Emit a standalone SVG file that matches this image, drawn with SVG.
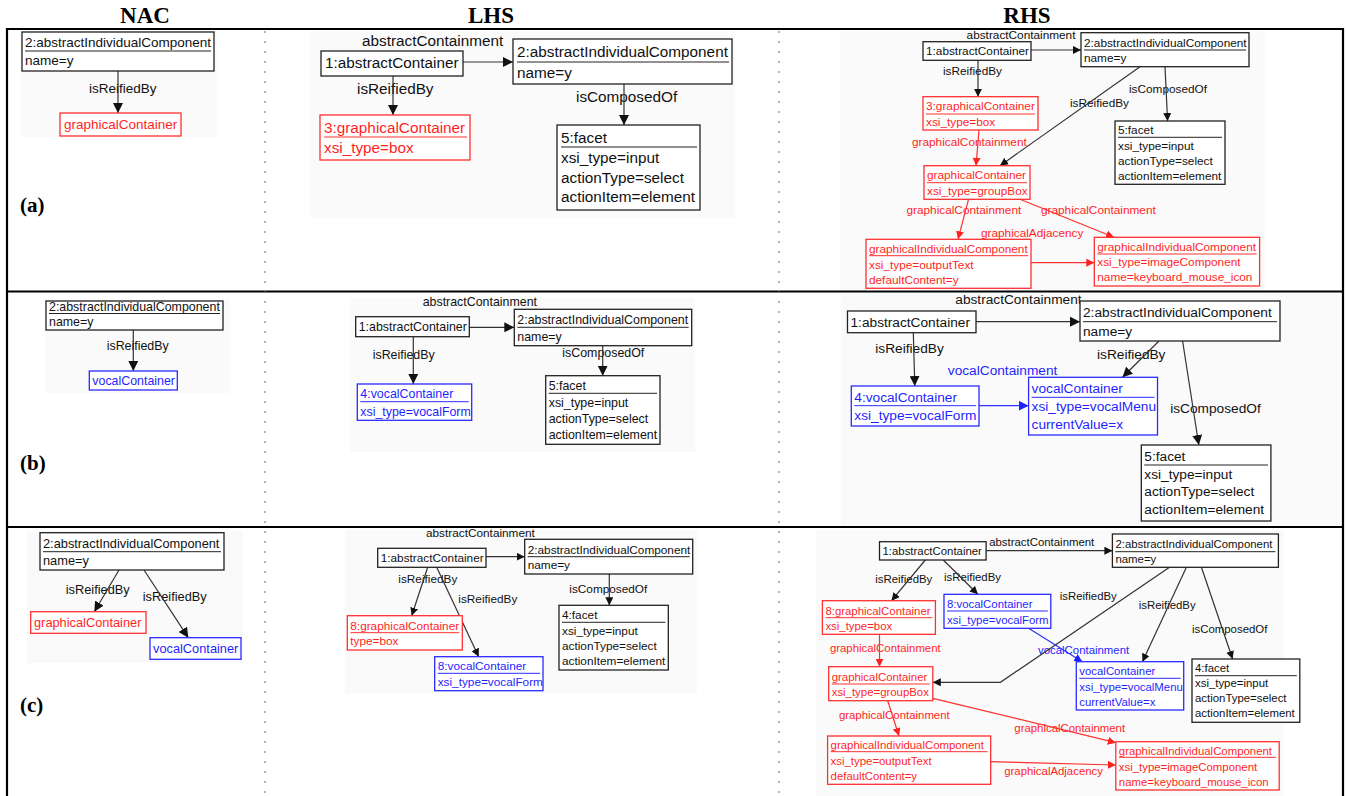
<svg xmlns="http://www.w3.org/2000/svg" width="1346" height="796" viewBox="0 0 1346 796">
<style>
text{font-family:"Liberation Sans",Arial,sans-serif;fill:#111}
.hd{font-family:"Liberation Serif","Times New Roman",serif;font-weight:bold;font-size:23px;text-anchor:middle;fill:#000}
.lb{font-family:"Liberation Serif","Times New Roman",serif;font-weight:bold;font-size:21px;fill:#000}
.bg{fill:#fafafa}
.nk{fill:#fff;stroke:#222;stroke-width:1.3}
.nr{fill:#fff;stroke:#ff3030;stroke-width:1.3}
.nb{fill:#fff;stroke:#2a2aff;stroke-width:1.3}
.uk{stroke:#222;stroke-width:1}
.ur{stroke:#ff3030;stroke-width:1}
.ub{stroke:#2a2aff;stroke-width:1}
text.r{fill:#ff1f1f}
text.b{fill:#1f1fff}
.ek{stroke:#333;stroke-width:1.2;fill:none}
.er{stroke:#ff3030;stroke-width:1.2;fill:none}
.eb{stroke:#3030ff;stroke-width:1.2;fill:none}
.grid{stroke:#000;stroke-width:2.2;fill:none}
.dot{stroke:#666;stroke-width:1;stroke-dasharray:2 8}
</style>
<defs>
<marker id="k8" viewBox="0 0 10 10" refX="10" refY="5" markerWidth="8" markerHeight="8" markerUnits="userSpaceOnUse" orient="auto"><path d="M0,0 L10,5 L0,10 z" fill="#111"/></marker>
<marker id="k10" viewBox="0 0 10 10" refX="10" refY="5" markerWidth="10" markerHeight="10" markerUnits="userSpaceOnUse" orient="auto"><path d="M0,0 L10,5 L0,10 z" fill="#111"/></marker>
<marker id="r8" viewBox="0 0 10 10" refX="10" refY="5" markerWidth="8" markerHeight="8" markerUnits="userSpaceOnUse" orient="auto"><path d="M0,0 L10,5 L0,10 z" fill="#ff2020"/></marker>
<marker id="b8" viewBox="0 0 10 10" refX="10" refY="5" markerWidth="8" markerHeight="8" markerUnits="userSpaceOnUse" orient="auto"><path d="M0,0 L10,5 L0,10 z" fill="#2020ff"/></marker>
<marker id="b10" viewBox="0 0 10 10" refX="10" refY="5" markerWidth="10" markerHeight="10" markerUnits="userSpaceOnUse" orient="auto"><path d="M0,0 L10,5 L0,10 z" fill="#2020ff"/></marker>
</defs>

<g id="headers">
<text class="hd" x="145" y="22.5">NAC</text>
<text class="hd" x="491" y="22.5">LHS</text>
<text class="hd" x="1027" y="22.5">RHS</text>
<text class="lb" x="20" y="212">(a)</text>
<text class="lb" x="20" y="470">(b)</text>
<text class="lb" x="20" y="712">(c)</text>
</g>

<g id="table">
<line class="grid" x1="7" y1="29" x2="1343" y2="29"/>
<line class="grid" x1="7" y1="291.5" x2="1343" y2="291.5"/>
<line class="grid" x1="7" y1="527" x2="1343" y2="527"/>
<line class="grid" x1="7" y1="28" x2="7" y2="796"/>
<line class="grid" x1="1343" y1="28" x2="1343" y2="796"/>
<line class="dot" x1="265" y1="31" x2="265" y2="796"/>
<line class="dot" x1="779" y1="31" x2="779" y2="796"/>
</g>

<g id="backgrounds">
<rect class="bg" x="20" y="31" width="197" height="106"/>
<rect class="bg" x="310" y="31" width="425" height="187"/>
<rect class="bg" x="840" y="31" width="425" height="259"/>
<rect class="bg" x="45" y="300" width="185" height="93"/>
<rect class="bg" x="350" y="298" width="345" height="154"/>
<rect class="bg" x="841" y="294" width="499" height="231"/>
<rect class="bg" x="27" y="531" width="216" height="132"/>
<rect class="bg" x="345" y="530" width="352" height="163"/>
<rect class="bg" x="816" y="530" width="468" height="266"/>
</g>

<g id="connectors">
<g id="c-a-nac" font-size="13.5">
<text x="89" y="93">isReifiedBy</text>
<line class="ek" x1="118" y1="71" x2="118" y2="113" marker-end="url(#k10)"/>
</g>
<g id="c-a-lhs" font-size="15.3">
<text x="362" y="46">abstractContainment</text>
<text x="357" y="94">isReifiedBy</text>
<text x="576" y="102">isComposedOf</text>
<line class="ek" x1="463" y1="62" x2="513" y2="62" marker-end="url(#k10)"/>
<line class="ek" x1="393" y1="76" x2="393" y2="115" marker-end="url(#k10)"/>
<line class="ek" x1="624" y1="84" x2="624" y2="125" marker-end="url(#k10)"/>
</g>
<g id="c-a-rhs" font-size="11.8">
<text x="966.6" y="39.3">abstractContainment</text>
<text x="943" y="75">isReifiedBy</text>
<text class="r" x="912" y="145.7">graphicalContainment</text>
<text x="1070" y="107.3">isReifiedBy</text>
<text x="1129" y="93.3">isComposedOf</text>
<text class="r" x="906.5" y="214">graphicalContainment</text>
<text class="r" x="1041" y="214">graphicalContainment</text>
<text class="r" x="981" y="237">graphicalAdjacency</text>
<line class="ek" x1="1031" y1="50" x2="1081" y2="50" marker-end="url(#k8)"/>
<line class="ek" x1="978" y1="60.3" x2="978" y2="96.7" marker-end="url(#k8)"/>
<line class="er" x1="979" y1="130" x2="976" y2="165.7" marker-end="url(#r8)"/>
<line class="ek" x1="1140" y1="66.7" x2="1000" y2="165.7" marker-end="url(#k8)"/>
<line class="ek" x1="1165" y1="66.7" x2="1167.6" y2="121" marker-end="url(#k8)"/>
<line class="er" x1="968.5" y1="199.3" x2="958" y2="239.3" marker-end="url(#r8)"/>
<line class="er" x1="1020" y1="199.3" x2="1114" y2="237.3" marker-end="url(#r8)"/>
<line class="er" x1="1031" y1="262.7" x2="1094.3" y2="262.7" marker-end="url(#r8)"/>
</g>
<g id="c-b-nac" font-size="12.4">
<text x="106.7" y="350">isReifiedBy</text>
<line class="ek" x1="133.3" y1="330" x2="133.3" y2="371" marker-end="url(#k10)"/>
</g>
<g id="c-b-lhs" font-size="12.4">
<text x="422.7" y="305.7">abstractContainment</text>
<text x="372.7" y="359">isReifiedBy</text>
<text x="562.3" y="357.3">isComposedOf</text>
<line class="ek" x1="469.3" y1="327.3" x2="514.3" y2="327.3" marker-end="url(#k10)"/>
<line class="ek" x1="413.3" y1="336.7" x2="413.3" y2="384" marker-end="url(#k10)"/>
<line class="ek" x1="602.7" y1="345.7" x2="602.7" y2="375.7" marker-end="url(#k10)"/>
</g>
<g id="c-b-rhs" font-size="13.7">
<text x="955.3" y="304">abstractContainment</text>
<text x="875.3" y="353.3">isReifiedBy</text>
<text class="b" x="947.8" y="375">vocalContainment</text>
<text x="1097" y="359">isReifiedBy</text>
<text x="1170.2" y="413.3">isComposedOf</text>
<line class="ek" x1="976" y1="321.7" x2="1080" y2="321.7" marker-end="url(#k10)"/>
<line class="ek" x1="913.3" y1="332.7" x2="914.8" y2="386" marker-end="url(#k10)"/>
<line class="eb" x1="979" y1="405.7" x2="1028.6" y2="405.7" marker-end="url(#b10)"/>
<line class="ek" x1="1159" y1="341" x2="1122.5" y2="377.3" marker-end="url(#k10)"/>
<line class="ek" x1="1182.6" y1="341" x2="1198.8" y2="445" marker-end="url(#k10)"/>
</g>
<g id="c-c-nac" font-size="12.8">
<text x="65.7" y="594">isReifiedBy</text>
<text x="142.7" y="600.7">isReifiedBy</text>
<line class="ek" x1="119" y1="570" x2="94.3" y2="611.7" marker-end="url(#k10)"/>
<line class="ek" x1="144" y1="570" x2="188.3" y2="637.7" marker-end="url(#k10)"/>
</g>
<g id="c-c-lhs" font-size="11.8">
<text x="426" y="537.3">abstractContainment</text>
<text x="398.3" y="583.3">isReifiedBy</text>
<text x="458.3" y="602.7">isReifiedBy</text>
<text x="569.3" y="593.3">isComposedOf</text>
<line class="ek" x1="486" y1="556.7" x2="524.7" y2="556.7" marker-end="url(#k8)"/>
<line class="ek" x1="427.7" y1="567.3" x2="411.7" y2="615.7" marker-end="url(#k8)"/>
<line class="ek" x1="436.7" y1="567.3" x2="478.7" y2="656.7" marker-end="url(#k8)"/>
<line class="ek" x1="609.3" y1="574" x2="609.3" y2="605.3" marker-end="url(#k8)"/>
</g>
<g id="c-c-rhs" font-size="11.4">
<text x="989.2" y="545.7">abstractContainment</text>
<text x="875.3" y="583.3">isReifiedBy</text>
<text x="944" y="580.7">isReifiedBy</text>
<text class="r" x="829.9" y="652.3">graphicalContainment</text>
<text x="1059.8" y="600">isReifiedBy</text>
<text class="b" x="1038" y="654">vocalContainment</text>
<text x="1138.7" y="609.3">isReifiedBy</text>
<text x="1192" y="633.3">isComposedOf</text>
<text class="r" x="838.9" y="719">graphicalContainment</text>
<text class="r" x="1014.3" y="732.3">graphicalContainment</text>
<text class="r" x="1004.2" y="775">graphicalAdjacency</text>
<line class="ek" x1="986.1" y1="550.7" x2="1112.4" y2="550.7" marker-end="url(#k8)"/>
<line class="ek" x1="925.3" y1="560" x2="891.5" y2="600.7" marker-end="url(#k8)"/>
<line class="ek" x1="943.3" y1="560" x2="977.9" y2="594.3" marker-end="url(#k8)"/>
<line class="er" x1="879.5" y1="634.3" x2="879.5" y2="666.7" marker-end="url(#r8)"/>
<polyline class="ek" points="1169.5,567.3 1000.4,682.3 932.8,682.3" marker-end="url(#k8)"/>
<line class="eb" x1="1028.6" y1="628.3" x2="1082.3" y2="661.7" marker-end="url(#b8)"/>
<line class="ek" x1="1186.4" y1="567.3" x2="1142.4" y2="661.7" marker-end="url(#k8)"/>
<line class="ek" x1="1201.4" y1="567.3" x2="1232.6" y2="659" marker-end="url(#k8)"/>
<line class="er" x1="887.7" y1="700.7" x2="899" y2="736" marker-end="url(#r8)"/>
<line class="er" x1="932.8" y1="698.3" x2="1115.8" y2="742.7" marker-end="url(#r8)"/>
<line class="er" x1="990.7" y1="761.7" x2="1115.8" y2="765" marker-end="url(#r8)"/>
</g>
</g>

<g id="nodes-a-nac" font-size="13.5">
<g id="a-nac-aic">
<rect class="nk" x="22" y="32" width="192" height="39"/>
<text x="25" y="47">2:abstractIndividualComponent</text>
<line class="uk" x1="25" y1="51" x2="211" y2="51"/>
<text x="25" y="65">name=y</text>
</g>
<g id="a-nac-gc">
<rect class="nr" x="60" y="113" width="121" height="23"/>
<text class="r" x="64" y="129">graphicalContainer</text>
</g>
</g>

<g id="nodes-a-lhs" font-size="15.3">
<g id="a-lhs-ac">
<rect class="nk" x="321" y="51" width="142" height="25"/>
<text x="325" y="68">1:abstractContainer</text>
</g>
<g id="a-lhs-aic">
<rect class="nk" x="513" y="39" width="219" height="45"/>
<text x="517" y="57">2:abstractIndividualComponent</text>
<line class="uk" x1="517" y1="62" x2="729" y2="62"/>
<text x="517" y="78">name=y</text>
</g>
<g id="a-lhs-gc">
<rect class="nr" x="320" y="115" width="150" height="45"/>
<text class="r" x="324" y="133">3:graphicalContainer</text>
<line class="ur" x1="324" y1="137" x2="467" y2="137"/>
<text class="r" x="324" y="153">xsi_type=box</text>
</g>
<g id="a-lhs-facet">
<rect class="nk" x="557" y="125" width="143" height="85"/>
<text x="561" y="143">5:facet</text>
<line class="uk" x1="561" y1="147" x2="697" y2="147"/>
<text x="561" y="163">xsi_type=input</text>
<text x="561" y="183">actionType=select</text>
<text x="561" y="202">actionItem=element</text>
</g>
</g>

<g id="nodes-a-rhs" font-size="11.8">
<g id="a-rhs-ac">
<rect class="nk" x="923" y="41.7" width="108" height="18.6"/>
<text x="926" y="55">1:abstractContainer</text>
</g>
<g id="a-rhs-aic">
<rect class="nk" x="1081" y="32.7" width="168" height="34"/>
<text x="1084" y="46.5">2:abstractIndividualComponent</text>
<line class="uk" x1="1084" y1="50" x2="1246" y2="50"/>
<text x="1084" y="62">name=y</text>
</g>
<g id="a-rhs-gc3">
<rect class="nr" x="923" y="96.7" width="115" height="33.3"/>
<text class="r" x="926" y="110">3:graphicalContainer</text>
<line class="ur" x1="926" y1="114" x2="1035" y2="114"/>
<text class="r" x="926" y="125.5">xsi_type=box</text>
</g>
<g id="a-rhs-facet">
<rect class="nk" x="1115" y="121" width="110" height="63.3"/>
<text x="1118" y="134">5:facet</text>
<line class="uk" x1="1118" y1="137.3" x2="1222" y2="137.3"/>
<text x="1118" y="149.5">xsi_type=input</text>
<text x="1118" y="164.5">actionType=select</text>
<text x="1118" y="179.5">actionItem=element</text>
</g>
<g id="a-rhs-gcgb">
<rect class="nr" x="924" y="165.7" width="106" height="33.6"/>
<text class="r" x="927" y="179">graphicalContainer</text>
<line class="ur" x1="927" y1="182.7" x2="1027" y2="182.7"/>
<text class="r" x="927" y="194.5">xsi_type=groupBox</text>
</g>
<g id="a-rhs-out">
<rect class="nr" x="866" y="239.3" width="165" height="49"/>
<text class="r" x="869" y="253">graphicalIndividualComponent</text>
<line class="ur" x1="869" y1="255.7" x2="1028" y2="255.7"/>
<text class="r" x="869" y="268.5">xsi_type=outputText</text>
<text class="r" x="869" y="283.5">defaultContent=y</text>
</g>
<g id="a-rhs-img">
<rect class="nr" x="1094.3" y="237.3" width="165.3" height="48.7"/>
<text class="r" x="1097.3" y="250.5">graphicalIndividualComponent</text>
<line class="ur" x1="1097.3" y1="254" x2="1256.6" y2="254"/>
<text class="r" x="1097.3" y="266">xsi_type=imageComponent</text>
<text class="r" x="1097.3" y="281">name=keyboard_mouse_icon</text>
</g>
</g>

<g id="nodes-b-nac" font-size="12.4">
<g id="b-nac-aic">
<rect class="nk" x="46" y="301" width="177" height="29"/>
<text x="49" y="310.5">2:abstractIndividualComponent</text>
<line class="uk" x1="49" y1="313.5" x2="220" y2="313.5"/>
<text x="49" y="326">name=y</text>
</g>
<g id="b-nac-vc">
<rect class="nb" x="89.3" y="371" width="88" height="19"/>
<text class="b" x="92.3" y="384.5">vocalContainer</text>
</g>
</g>

<g id="nodes-b-lhs" font-size="12.4">
<g id="b-lhs-ac">
<rect class="nk" x="355.7" y="316.7" width="113.6" height="20"/>
<text x="358.7" y="331">1:abstractContainer</text>
</g>
<g id="b-lhs-aic">
<rect class="nk" x="514.3" y="309.3" width="177.4" height="36.4"/>
<text x="517.3" y="323.5">2:abstractIndividualComponent</text>
<line class="uk" x1="517.3" y1="327.3" x2="688.7" y2="327.3"/>
<text x="517.3" y="340.5">name=y</text>
</g>
<g id="b-lhs-vc">
<rect class="nb" x="357.3" y="384" width="114.4" height="36.3"/>
<text class="b" x="360.3" y="398.3">4:vocalContainer</text>
<line class="ub" x1="360.3" y1="401.7" x2="468.7" y2="401.7"/>
<text class="b" x="360.3" y="415.5">xsi_type=vocalForm</text>
</g>
<g id="b-lhs-facet">
<rect class="nk" x="545.7" y="375.7" width="114.3" height="68.6"/>
<text x="548.7" y="390">5:facet</text>
<line class="uk" x1="548.7" y1="393.3" x2="657" y2="393.3"/>
<text x="548.7" y="406.7">xsi_type=input</text>
<text x="548.7" y="422.5">actionType=select</text>
<text x="548.7" y="438.5">actionItem=element</text>
</g>
</g>

<g id="nodes-b-rhs" font-size="13.7">
<g id="b-rhs-ac">
<rect class="nk" x="847.5" y="311" width="128.5" height="21.7"/>
<text x="850.5" y="326.5">1:abstractContainer</text>
</g>
<g id="b-rhs-aic">
<rect class="nk" x="1080" y="301" width="200" height="40"/>
<text x="1083" y="317.3">2:abstractIndividualComponent</text>
<line class="uk" x1="1083" y1="321.7" x2="1277" y2="321.7"/>
<text x="1083" y="335.5">name=y</text>
</g>
<g id="b-rhs-vc4">
<rect class="nb" x="851.3" y="386" width="127.7" height="40"/>
<text class="b" x="854.3" y="401.7">4:vocalContainer</text>
<line class="ub" x1="854.3" y1="405.7" x2="976" y2="405.7"/>
<text class="b" x="854.3" y="419.5">xsi_type=vocalForm</text>
</g>
<g id="b-rhs-vm">
<rect class="nb" x="1028.6" y="377.3" width="128.9" height="57.7"/>
<text class="b" x="1031.6" y="393.3">vocalContainer</text>
<line class="ub" x1="1031.6" y1="397.3" x2="1154.5" y2="397.3"/>
<text class="b" x="1031.6" y="411">xsi_type=vocalMenu</text>
<text class="b" x="1031.6" y="428.5">currentValue=x</text>
</g>
<g id="b-rhs-facet">
<rect class="nk" x="1141.3" y="445" width="129.6" height="76"/>
<text x="1144.3" y="461">5:facet</text>
<line class="uk" x1="1144.3" y1="465" x2="1268" y2="465"/>
<text x="1144.3" y="478.5">xsi_type=input</text>
<text x="1144.3" y="496">actionType=select</text>
<text x="1144.3" y="513.5">actionItem=element</text>
</g>
</g>

<g id="nodes-c-nac" font-size="12.8">
<g id="c-nac-aic">
<rect class="nk" x="40" y="532.7" width="184" height="37.3"/>
<text x="43" y="547.7">2:abstractIndividualComponent</text>
<line class="uk" x1="43" y1="551.7" x2="221" y2="551.7"/>
<text x="43" y="564.5">name=y</text>
</g>
<g id="c-nac-gc">
<rect class="nr" x="30.7" y="611.7" width="115.3" height="21.6"/>
<text class="r" x="34" y="627.3">graphicalContainer</text>
</g>
<g id="c-nac-vc">
<rect class="nb" x="150" y="637.7" width="91" height="21.6"/>
<text class="b" x="153" y="653.3">vocalContainer</text>
</g>
</g>

<g id="nodes-c-lhs" font-size="11.8">
<g id="c-lhs-ac">
<rect class="nk" x="377.7" y="548.3" width="108.3" height="19"/>
<text x="380.7" y="562.3">1:abstractContainer</text>
</g>
<g id="c-lhs-aic">
<rect class="nk" x="524.7" y="539.3" width="168" height="34.7"/>
<text x="527.7" y="553.5">2:abstractIndividualComponent</text>
<line class="uk" x1="527.7" y1="556.7" x2="689.7" y2="556.7"/>
<text x="527.7" y="568.5">name=y</text>
</g>
<g id="c-lhs-gc">
<rect class="nr" x="347.3" y="615.7" width="115" height="34.3"/>
<text class="r" x="350.3" y="629.5">8:graphicalContainer</text>
<line class="ur" x1="350.3" y1="632.7" x2="459.3" y2="632.7"/>
<text class="r" x="350.3" y="645">type=box</text>
</g>
<g id="c-lhs-vc">
<rect class="nb" x="434.7" y="656.7" width="108.3" height="34"/>
<text class="b" x="437.7" y="670">8:vocalContainer</text>
<line class="ub" x1="437.7" y1="673.3" x2="540" y2="673.3"/>
<text class="b" x="437.7" y="686">xsi_type=vocalForm</text>
</g>
<g id="c-lhs-facet">
<rect class="nk" x="559" y="605.3" width="109.3" height="64.7"/>
<text x="562" y="619">4:facet</text>
<line class="uk" x1="562" y1="622.3" x2="665.3" y2="622.3"/>
<text x="562" y="634.5">xsi_type=input</text>
<text x="562" y="649.5">actionType=select</text>
<text x="562" y="664.5">actionItem=element</text>
</g>
</g>

<g id="nodes-c-rhs" font-size="11.4">
<g id="c-rhs-ac">
<rect class="nk" x="879.5" y="541.7" width="106.6" height="18.3"/>
<text x="882.5" y="555">1:abstractContainer</text>
</g>
<g id="c-rhs-aic">
<rect class="nk" x="1112.4" y="534" width="166" height="33.3"/>
<text x="1115.4" y="547.7">2:abstractIndividualComponent</text>
<line class="uk" x1="1115.4" y1="551.7" x2="1275.4" y2="551.7"/>
<text x="1115.4" y="562.5">name=y</text>
</g>
<g id="c-rhs-gc8">
<rect class="nr" x="822.4" y="600.7" width="113" height="33.6"/>
<text class="r" x="825.4" y="614.5">8:graphicalContainer</text>
<line class="ur" x1="825.4" y1="617.7" x2="932.4" y2="617.7"/>
<text class="r" x="825.4" y="630">xsi_type=box</text>
</g>
<g id="c-rhs-vc8">
<rect class="nb" x="944" y="594.3" width="106.8" height="34"/>
<text class="b" x="947" y="608">8:vocalContainer</text>
<line class="ub" x1="947" y1="611" x2="1047.8" y2="611"/>
<text class="b" x="947" y="623.5">xsi_type=vocalForm</text>
</g>
<g id="c-rhs-gcgb">
<rect class="nr" x="828.7" y="666.7" width="104.1" height="34"/>
<text class="r" x="831.7" y="680.5">graphicalContainer</text>
<line class="ur" x1="831.7" y1="684" x2="929.8" y2="684"/>
<text class="r" x="831.7" y="696">xsi_type=groupBox</text>
</g>
<g id="c-rhs-vm">
<rect class="nb" x="1076.3" y="661.7" width="107.4" height="48.3"/>
<text class="b" x="1079.3" y="675">vocalContainer</text>
<line class="ub" x1="1079.3" y1="678.3" x2="1180.7" y2="678.3"/>
<text class="b" x="1079.3" y="690.5">xsi_type=vocalMenu</text>
<text class="b" x="1079.3" y="705.5">currentValue=x</text>
</g>
<g id="c-rhs-facet">
<rect class="nk" x="1192" y="659" width="107.8" height="63.3"/>
<text x="1195" y="671.7">4:facet</text>
<line class="uk" x1="1195" y1="675.7" x2="1296.8" y2="675.7"/>
<text x="1195" y="687">xsi_type=input</text>
<text x="1195" y="702">actionType=select</text>
<text x="1195" y="717">actionItem=element</text>
</g>
<g id="c-rhs-out">
<rect class="nr" x="827.6" y="736" width="163.1" height="48.3"/>
<text class="r" x="830.6" y="749">graphicalIndividualComponent</text>
<line class="ur" x1="830.6" y1="751.7" x2="987.7" y2="751.7"/>
<text class="r" x="830.6" y="764.5">xsi_type=outputText</text>
<text class="r" x="830.6" y="779.5">defaultContent=y</text>
</g>
<g id="c-rhs-img">
<rect class="nr" x="1115.8" y="741.7" width="163.4" height="48.3"/>
<text class="r" x="1118.8" y="755">graphicalIndividualComponent</text>
<line class="ur" x1="1118.8" y1="757.3" x2="1276.2" y2="757.3"/>
<text class="r" x="1118.8" y="770.5">xsi_type=imageComponent</text>
<text class="r" x="1118.8" y="785.5">name=keyboard_mouse_icon</text>
</g>
</g>
</svg>
